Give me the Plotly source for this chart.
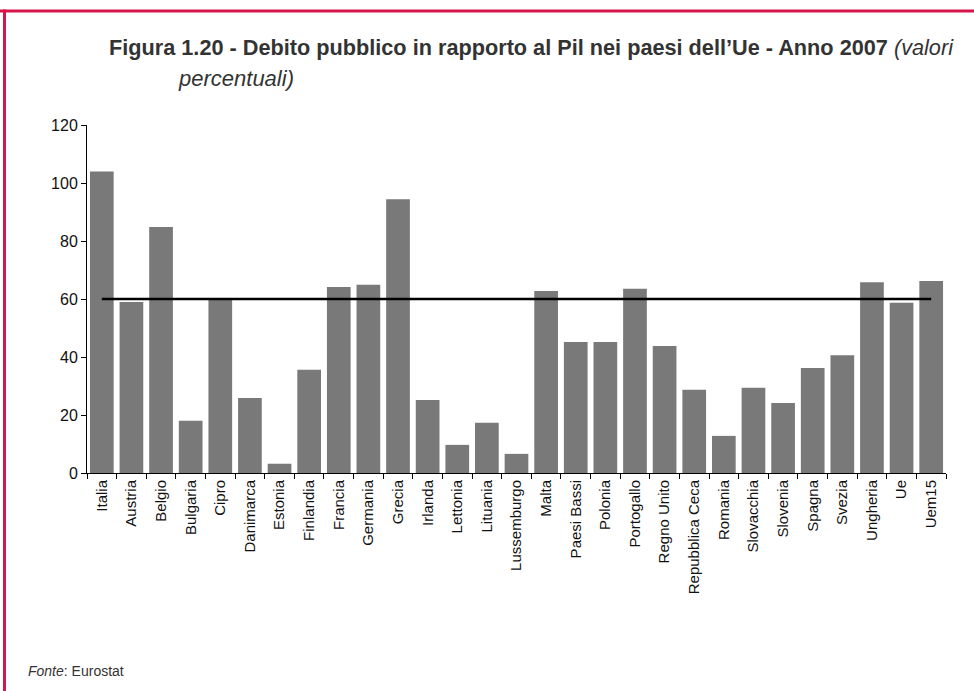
import plotly.graph_objects as go

countries = ["Italia", "Austria", "Belgio", "Bulgaria", "Cipro", "Danimarca", "Estonia",
             "Finlandia", "Francia", "Germania", "Grecia", "Irlanda", "Lettonia", "Lituania",
             "Lussemburgo", "Malta", "Paesi Bassi", "Polonia", "Portogallo", "Regno Unito",
             "Repubblica Ceca", "Romania", "Slovacchia", "Slovenia", "Spagna", "Svezia",
             "Ungheria", "Ue", "Uem15"]
debt = [104.0, 59.0, 84.8, 18.0, 59.8, 25.9, 3.2, 35.6, 64.1, 64.9, 94.4, 25.2, 9.7, 17.3,
        6.6, 62.8, 45.2, 45.2, 63.5, 43.8, 28.7, 12.8, 29.4, 24.1, 36.2, 40.6, 65.8, 58.7, 66.2]
threshold = [60] * len(countries)
y_ticks = [0, 20, 40, 60, 80, 100, 120]

W, H = 974, 691
L, R, T, B = 87, 28, 125, 218
pw, ph = W - L - R, H - T - B

def px(x):
    return (x - L) / pw

def py(y):
    return (H - B - y) / ph

fig = go.Figure()
fig.add_trace(go.Bar(x=countries, y=debt, marker=dict(color="#797979", line=dict(width=0)),
                     showlegend=False))
fig.add_trace(go.Scatter(x=countries, y=threshold, mode="lines",
                         line=dict(color="#000000", width=2.5), showlegend=False))

font = "Liberation Sans, Arial, sans-serif"
fig.update_layout(
    width=W, height=H,
    margin=dict(l=L, r=R, t=T, b=B, pad=0),
    paper_bgcolor="white", plot_bgcolor="white",
    bargap=0.2,
    font=dict(family=font, size=15, color="#111111"),
    xaxis=dict(type="category", tickangle=-90, showline=True, linecolor="#000000", linewidth=1,
               ticks="outside", ticklen=5, tickcolor="#000000", tickson="boundaries",
               showgrid=False, tickfont=dict(size=15, family=font, color="#111111")),
    yaxis=dict(range=[0, 120], tickvals=y_ticks, showline=True, linecolor="#000000", linewidth=1,
               ticks="outside", ticklen=5, tickcolor="#000000", showgrid=False, zeroline=False,
               tickfont=dict(size=16, family=font, color="#111111")),
    shapes=[
        dict(type="line", xref="paper", yref="paper", x0=px(0), x1=px(W), y0=py(11), y1=py(11),
             line=dict(color="#d6154a", width=3)),
        dict(type="line", xref="paper", yref="paper", x0=px(4.5), x1=px(4.5), y0=py(9.5), y1=py(H + 2),
             line=dict(color="#d6154a", width=3)),
    ],
    annotations=[
        dict(xref="paper", yref="paper", x=px(107), y=py(47), xanchor="left", yanchor="middle",
             showarrow=False,
             text="<b>Figura 1.20 - Debito pubblico in rapporto al Pil nei paesi dell’Ue - Anno 2007</b> <i>(valori</i>",
             font=dict(size=21.7, family=font, color="#333333")),
        dict(xref="paper", yref="paper", x=px(176), y=py(78), xanchor="left", yanchor="middle",
             showarrow=False, text="<i>percentuali)</i>",
             font=dict(size=22, family=font, color="#333333")),
        dict(xref="paper", yref="paper", x=px(26), y=py(671), xanchor="left", yanchor="middle",
             showarrow=False, text="<i>Fonte</i>: Eurostat",
             font=dict(size=14, family=font, color="#333333")),
    ],
)

fig.write_html("out.html", config={"displayModeBar": False},
               post_script="document.body.style.margin='0px';document.body.style.padding='0px';")
